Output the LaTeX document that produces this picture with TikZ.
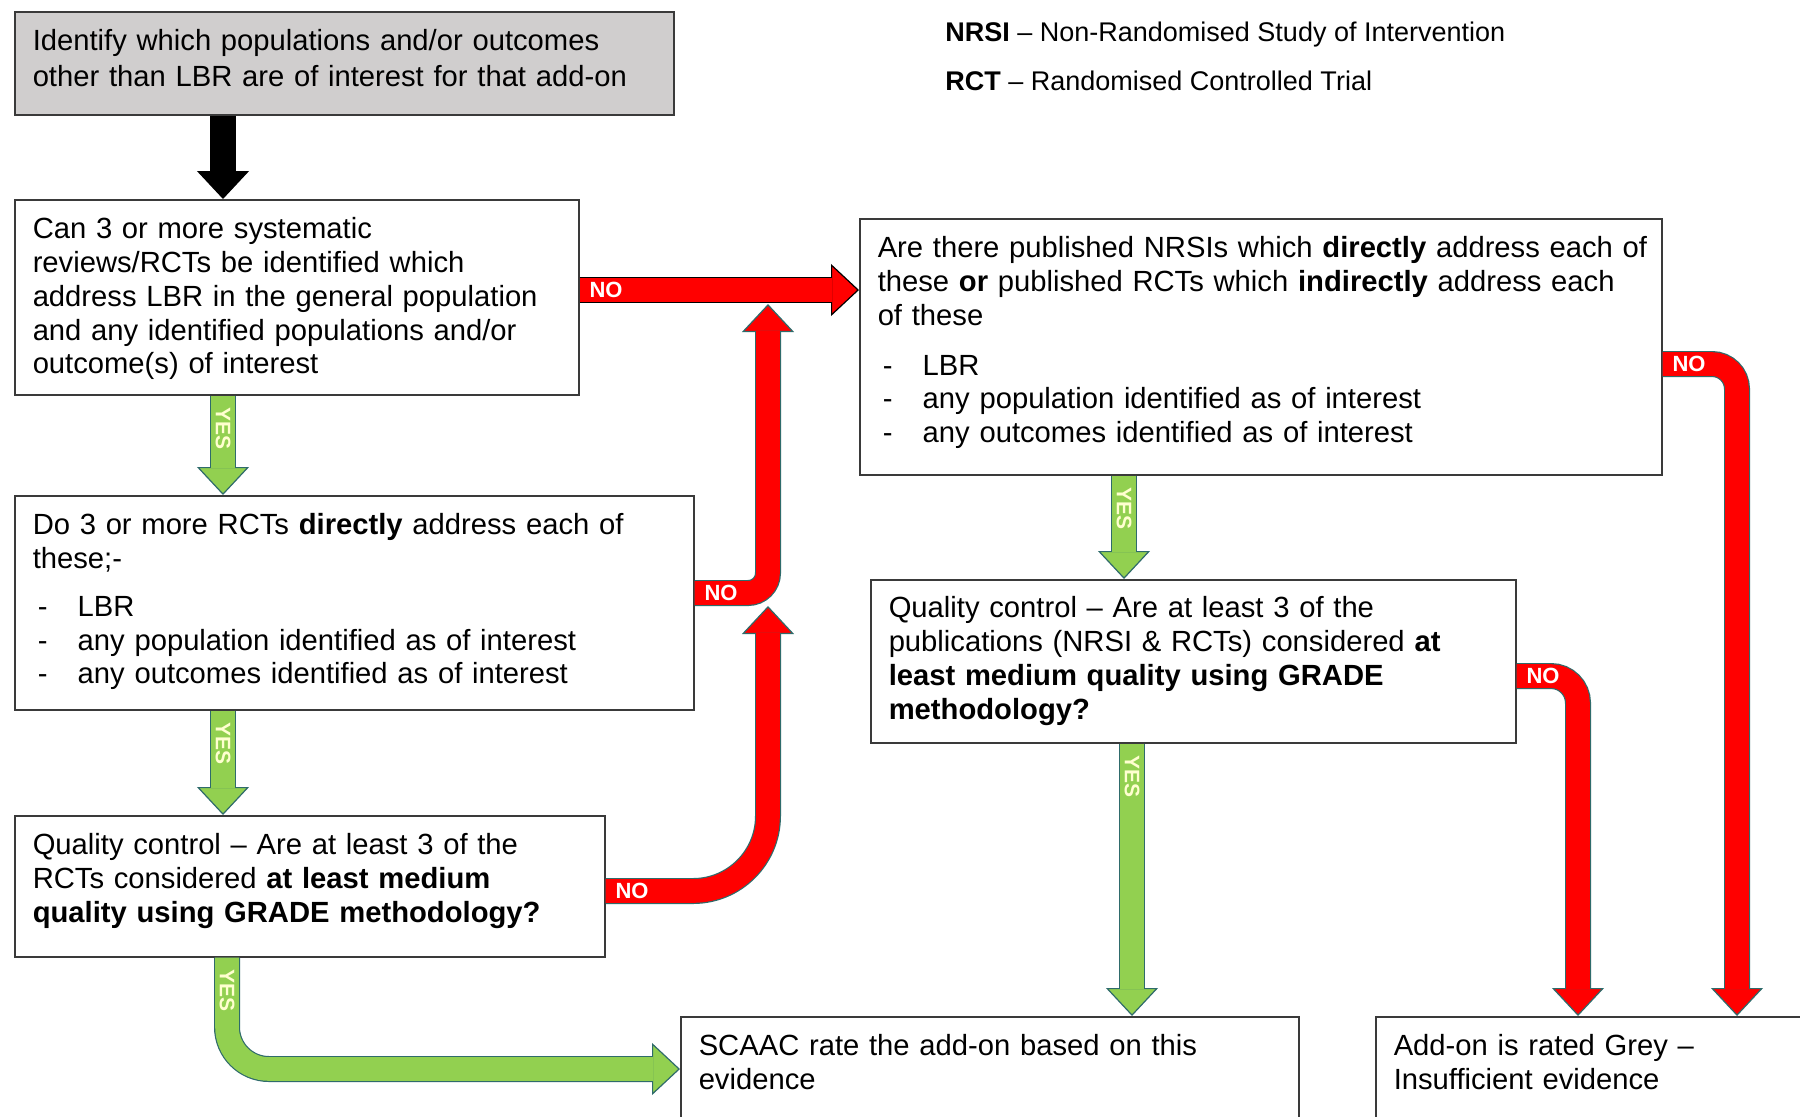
\documentclass[tikz,border=0pt]{standalone}
\usepackage{fontspec}
\setmainfont{Liberation Sans}
\usetikzlibrary{arrows.meta, positioning, calc}
\definecolor{boxgrey}{HTML}{D0CECE}
\definecolor{boxline}{HTML}{3A3A3A}
\definecolor{yesgreen}{HTML}{92D050}
\definecolor{nored}{HTML}{FF0000}
\definecolor{arrowedge}{HTML}{2F6B6B}
\definecolor{yestext}{HTML}{FFFFD0}

\newcommand{\dashitem}{\hspace*{2.5pt}\makebox[20pt][l]{-}}

\begin{document}
\begin{tikzpicture}[
  x=0.5pt, y=-0.5pt,
  box/.style={draw=boxline, line width=0.75pt, anchor=north west, inner xsep=9pt, inner ysep=0pt, text height=19.5pt, align=left, font=\fontsize{14.6}{16.9}\selectfont},
  legend/.style={anchor=west, inner sep=0pt, font=\fontsize{13.5}{16}\selectfont},
  fatarrow/.style 2 args={draw=#2, line width=13pt, -{Triangle[width=26pt, length=14pt, line width'=0.6pt, fill=#1]}, postaction={draw=#1, line width=11.8pt, arrows=-, shorten >=13.5pt}},
  yesarrow/.style={fatarrow={yesgreen}{arrowedge}},
  noarrow/.style={fatarrow={nored}{arrowedge}},
  blackarrow/.style={fatarrow={black}{black}},
  yeslabel/.style={rotate=-90, anchor=west, inner sep=6pt, outer sep=0pt, text=yestext, font=\bfseries\fontsize{10.5}{10.5}\selectfont},
  nolabel/.style={anchor=west, inner sep=5pt, outer sep=0pt, text=white, font=\bfseries\fontsize{11}{11}\selectfont}
]
  \useasboundingbox (0,0) rectangle (1800,1116);

  % boxes
  \node[box, fill=boxgrey, text width=311.5pt, text depth=32pt, font=\fontsize{14.6}{18}\selectfont] (interest) at (14,11) {Identify which populations and/or outcomes\\other than LBR are of interest for that add-on};
  \node[box, text width=264pt, text depth=78pt] (sysrev) at (14,199) {Can 3 or more systematic\\reviews/RCTs be identified which\\address LBR in the general population\\and any identified populations and/or\\outcome(s) of interest};
  \node[box, text width=321.5pt, text depth=87.5pt] (rctdirect) at (14,495) {Do 3 or more RCTs \textbf{directly} address each of\\these;-\\[7pt]\dashitem LBR\\\dashitem any population identified as of interest\\\dashitem any outcomes identified as of interest};
  \node[box, text width=277pt, text depth=51pt] (rctqual) at (14,815) {Quality control – Are at least 3 of the\\RCTs considered \textbf{at least medium}\\\textbf{quality using GRADE methodology?}};
  \node[box, text width=383pt, text depth=108.5pt] (nrsi) at (859,218) {\mbox{Are there published NRSIs which \textbf{directly} address each of}\\these \textbf{or} published RCTs which \textbf{indirectly} address each\\of these\\[8pt]\dashitem LBR\\\dashitem any population identified as of interest\\\dashitem any outcomes identified as of interest};
  \node[box, text width=304.5pt, text height=19pt, text depth=62.5pt] (nrsiqual) at (870,579) {Quality control – Are at least 3 of the\\publications (NRSI \& RCTs) considered \textbf{at}\\\textbf{least medium quality using GRADE}\\\textbf{methodology?}};
  \node[box, text width=291pt, text depth=80pt] (rate) at (680,1016) {SCAAC rate the add-on based on this\\evidence};
  \node[box, text width=209.5pt, text depth=80pt] (grey) at (1375,1016) {Add-on is rated Grey –\\Insufficient evidence};

  % legend
  \node[legend] (legnrsi) at (945,35) {\textbf{NRSI} – Non-Randomised Study of Intervention};
  \node[legend] (legrct) at (945,81) {\textbf{RCT} – Randomised Controlled Trial};

  % arrow columns and joins
  \coordinate (colA) at (223,0);
  \coordinate (colB) at (227,0);
  \coordinate (colC) at (768,0);
  \coordinate (colD) at (1124,0);
  \coordinate (colE) at (1132,0);
  \coordinate (colF) at (1578,0);
  \coordinate (colG) at (1737,0);
  \coordinate (upA) at (768,304);
  \coordinate (upB) at (768,606);

  \draw[blackarrow] (interest.south -| colA) -- (sysrev.north -| colA);
  \draw[yesarrow] (sysrev.south -| colA) -- node[yeslabel, pos=0] {YES} (rctdirect.north -| colA);
  \draw[yesarrow] (rctdirect.south -| colA) -- node[yeslabel, pos=0] {YES} (rctqual.north -| colA);
  \draw[yesarrow, rounded corners=21pt] (rctqual.south -| colB) |- node[yeslabel, pos=0] {YES} (rate.west |- 0,1069);
  \draw[yesarrow] (nrsi.south -| colD) -- node[yeslabel, pos=0] {YES} (nrsiqual.north -| colD);
  \draw[yesarrow] (nrsiqual.south -| colE) -- node[yeslabel, pos=0] {YES} (rate.north -| colE);

  \draw[noarrow, rounded corners=37.5pt] (rctqual.east |- 0,891) -| node[nolabel, pos=0] {NO} (upB);
  \draw[noarrow, rounded corners=10pt] (rctdirect.east |- 0,593) -| node[nolabel, pos=0] {NO} (upA);
  \draw[fatarrow={nored}{black}] (sysrev.east |- 0,290) -- node[nolabel, pos=0] {NO} (nrsi.west |- 0,290);
  \draw[noarrow, rounded corners=12.5pt] (nrsi.east |- 0,364) -| node[nolabel, pos=0] {NO} (grey.north -| colG);
  \draw[noarrow, rounded corners=13.5pt] (nrsiqual.east |- 0,676) -| node[nolabel, pos=0] {NO} (grey.north -| colF);
\end{tikzpicture}
\end{document}
